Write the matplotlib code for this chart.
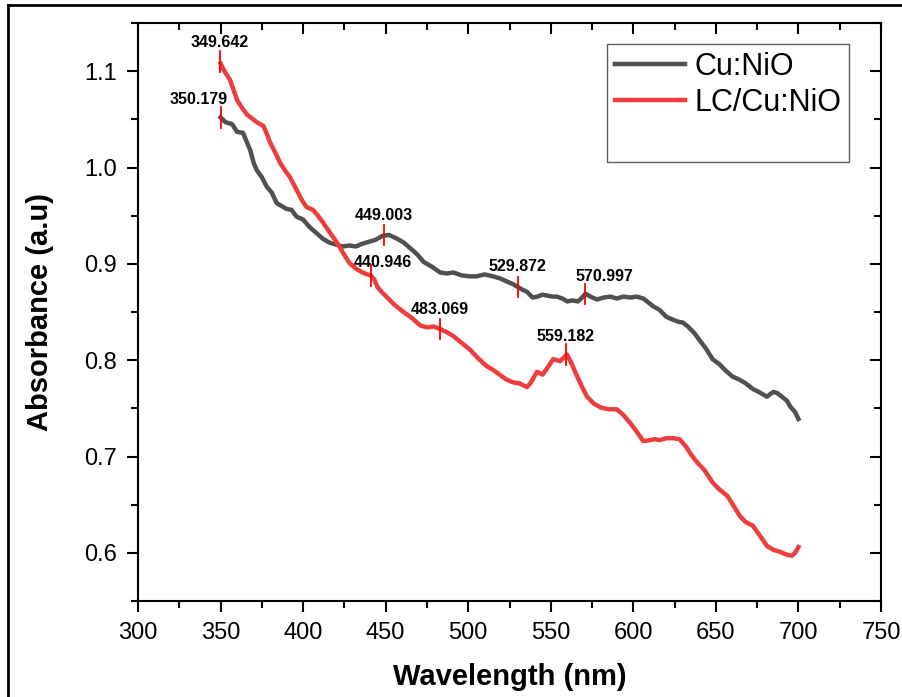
import matplotlib.pyplot as plt
from matplotlib.lines import Line2D

plt.rcParams['font.family'] = ['Liberation Sans', 'DejaVu Sans']

# Cu:NiO
wl_cu = [350, 353, 357, 360, 363.6, 366, 368, 370, 372, 375, 378, 381, 384, 387, 390, 393, 396,
         400, 404, 408, 412, 416, 420, 424, 428, 432, 436, 440, 444, 448, 452, 457, 461, 465,
         469, 473, 478, 483, 487, 491, 496, 501, 505, 510, 515, 519, 523, 527, 530, 533, 535.6,
         539, 542, 545, 548, 551, 553.6, 557, 560, 563, 566.5, 569, 571, 574, 578, 582, 586,
         590, 594, 598, 602, 606, 609, 612, 616, 620, 624, 627, 630, 633, 637, 640, 644, 648,
         652, 656, 660, 664, 668, 672.5, 676, 679, 681, 683, 685, 687, 690, 693, 695, 698, 700]
ab_cu = [1.052, 1.047, 1.045, 1.037, 1.036, 1.026, 1.018, 1.005, 0.997, 0.990, 0.980, 0.974,
         0.963, 0.960, 0.957, 0.956, 0.949, 0.946, 0.938, 0.932, 0.926, 0.922, 0.920, 0.918,
         0.919, 0.918, 0.921, 0.923, 0.925, 0.929, 0.930, 0.926, 0.922, 0.916, 0.910, 0.902,
         0.897, 0.891, 0.890, 0.891, 0.888, 0.887, 0.887, 0.889, 0.887, 0.885, 0.882, 0.879,
         0.876, 0.873, 0.871, 0.865, 0.866, 0.868, 0.867, 0.866, 0.866, 0.864, 0.861, 0.862,
         0.861, 0.865, 0.869, 0.866, 0.863, 0.865, 0.866, 0.864, 0.866, 0.865, 0.866, 0.864,
         0.860, 0.856, 0.852, 0.845, 0.842, 0.840, 0.839, 0.835, 0.828, 0.821, 0.812, 0.801,
         0.796, 0.789, 0.783, 0.780, 0.776, 0.770, 0.767, 0.764, 0.762, 0.765, 0.767, 0.766,
         0.762, 0.758, 0.752, 0.746, 0.739]

# LC/Cu:NiO
wl_lc = [350, 352, 355.7, 358, 360, 363, 366, 369, 372, 376, 378, 380, 383, 386, 389, 392, 396,
         399, 402, 406, 409, 412, 416, 420.5, 424, 428, 432, 436, 439, 441, 443, 445, 448, 451,
         455, 460, 465, 471, 475, 479, 483.5, 487, 491, 496, 501, 506, 511, 515, 519, 523, 527,
         531, 535.6, 538, 541.7, 545, 548, 551.4, 555.6, 559.8, 563, 566, 569, 572, 576, 580,
         585, 590, 594, 598, 602, 606, 610, 613, 616, 620, 624, 628, 632, 635, 638.6, 643, 648,
         652, 657, 661, 664.6, 668, 672.5, 677, 681, 685, 689, 693, 696, 698, 700]
ab_lc = [1.108, 1.101, 1.091, 1.080, 1.070, 1.062, 1.055, 1.051, 1.047, 1.043, 1.035, 1.026,
         1.016, 1.005, 0.997, 0.990, 0.977, 0.967, 0.959, 0.956, 0.950, 0.943, 0.933, 0.922,
         0.912, 0.901, 0.895, 0.891, 0.889, 0.888, 0.884, 0.876, 0.870, 0.865, 0.858, 0.851,
         0.845, 0.836, 0.834, 0.835, 0.832, 0.829, 0.825, 0.818, 0.811, 0.802, 0.794, 0.790,
         0.785, 0.780, 0.777, 0.776, 0.772, 0.777, 0.788, 0.785, 0.792, 0.801, 0.799, 0.806,
         0.795, 0.783, 0.772, 0.762, 0.755, 0.751, 0.749, 0.749, 0.743, 0.735, 0.726, 0.716,
         0.717, 0.718, 0.717, 0.719, 0.719, 0.718, 0.710, 0.702, 0.694, 0.686, 0.673, 0.666,
         0.659, 0.648, 0.638, 0.632, 0.628, 0.617, 0.607, 0.603, 0.601, 0.598, 0.597, 0.600,
         0.606]

# peak labels: (wavelength, absorbance, label offset x px, offset y px)
pk_cu = [(350.179, 1.052, -22, 18), (449.003, 0.930, 0, 19),
         (529.872, 0.876, 0, 20), (570.997, 0.869, 19, 17)]
pk_lc = [(349.642, 1.110, 0, 19), (440.946, 0.888, 12, 13),
         (483.069, 0.832, 0, 20), (559.182, 0.806, 0, 18)]

fig = plt.figure(figsize=(9.02, 6.97), dpi=100)
ax = fig.add_axes([138/902, 96/697, 743/902, 578/697])

ax.plot(wl_cu, ab_cu, color='#505050', lw=3.2, label='Cu:NiO')
ax.plot(wl_lc, ab_lc, color='#ee3d3d', lw=3.2, label='LC/Cu:NiO')

for x, y, dx, dy in pk_cu + pk_lc:
    ax.plot([x, x], [y - 0.0105, y + 0.0105], color='red', lw=1.3)
    ax.annotate('%.3f' % x, (x, y), xytext=(dx, dy),
                textcoords='offset pixels', ha='center', va='center',
                fontsize=11.5, fontweight='bold')

ax.set_xlim(300, 750)
ax.set_ylim(0.55, 1.15)
ax.set_xticks(range(300, 751, 50))
ax.set_xticks(range(325, 750, 50), minor=True)
ax.set_yticks([0.6, 0.7, 0.8, 0.9, 1.0, 1.1])
ax.set_yticks([0.55, 0.65, 0.75, 0.85, 0.95, 1.05, 1.15], minor=True)
ax.tick_params(which='both', labelsize=17, width=1.5, direction='out',
               top=True, right=True, pad=7)
ax.tick_params(which='major', length=8)
ax.tick_params(which='minor', length=5)
# top and right ticks point inward
for t in ax.xaxis.get_major_ticks() + ax.xaxis.get_minor_ticks():
    t.tick2line.set_marker(3)
for t in ax.yaxis.get_major_ticks() + ax.yaxis.get_minor_ticks():
    t.tick2line.set_marker(0)
for s in ax.spines.values():
    s.set_linewidth(1.5)

ax.set_xlabel('Wavelength (nm)', fontsize=21, fontweight='bold', labelpad=14)
ax.set_ylabel('Absorbance (a.u)', fontsize=21, fontweight='bold', labelpad=22)

h, l = ax.get_legend_handles_labels()
h.append(Line2D([], [], color='none'))
l.append(' ')
leg = ax.legend(h, l, loc='upper left', bbox_to_anchor=((607-138)/743, (601-44)/578),
                borderaxespad=0, fontsize=22, handlelength=2.3, handletextpad=0.3,
                labelspacing=0.2, borderpad=0.25, fancybox=False, frameon=True)
leg.get_frame().set_edgecolor('#333333')
leg.get_frame().set_linewidth(1.0)

# outer border of the picture
fig.add_artist(Line2D([8/902, 1], [1 - 5/697, 1 - 5/697], color='black', lw=2))
fig.add_artist(Line2D([8/902, 8/902], [0, 1 - 5/697], color='black', lw=2))

fig.savefig('out.png', dpi=100)
